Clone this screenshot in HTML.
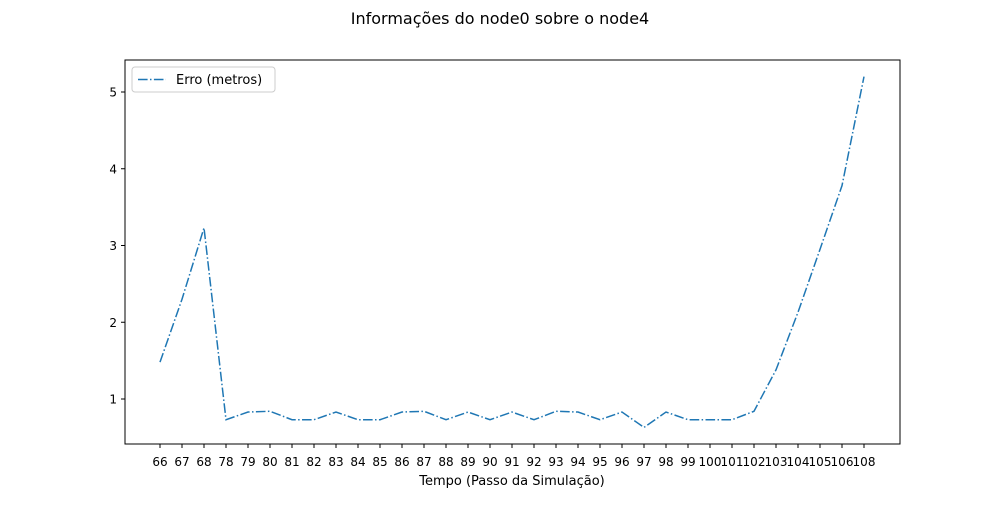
<!DOCTYPE html>
<html><head><meta charset="utf-8"><style>
body{margin:0;background:#fff;font-family:"Liberation Sans","DejaVu Sans",sans-serif}
text{font-family:"DejaVu Sans","Liberation Sans",sans-serif}
</style></head><body>
<svg id="chart" width="1000" height="500">
<rect width="1000" height="500" fill="#fff"/>
<text x="500" y="24" text-anchor="middle" font-size="16">Informações do node0 sobre o node4</text>
<g id="plot"></g>
<rect x="125" y="60" width="775" height="384" fill="none" stroke="#000" stroke-width="1"/>
<text x="512" y="485" text-anchor="middle" font-size="13">Tempo (Passo da Simulação)</text>
<g>
<rect x="132" y="67" width="143" height="25" rx="3" fill="#fff" stroke="#ccc"/>
<line x1="138" y1="79.5" x2="166" y2="79.5" stroke="#1f77b4" stroke-width="1.5" stroke-dasharray="9.6,2.4,1.5,2.4"/>
<text x="176" y="84" font-size="13">Erro (metros)</text>
</g>
</svg>
<script>
const categories=["66","67","68","78","79","80","81","82","83","84","85","86","87","88","89","90","91","92","93","94","95","96","97","98","99","100","101","102","103","104","105","106","108"];
const values=[1.48,2.3,3.23,0.73,0.83,0.84,0.73,0.73,0.83,0.73,0.73,0.83,0.84,0.73,0.83,0.73,0.83,0.73,0.84,0.83,0.73,0.83,0.63,0.83,0.73,0.73,0.73,0.84,1.38,2.13,2.95,3.78,5.2];
const yTicks=[1,2,3,4,5];
const ns="http://www.w3.org/2000/svg";
const g=document.getElementById('plot');
const xs=i=>160+i*(704/(categories.length-1));
const ys=v=>475.75-v*76.75;
function mk(t,a){const e=document.createElementNS(ns,t);for(const k in a)e.setAttribute(k,a[k]);g.appendChild(e);return e;}
yTicks.forEach(v=>{
const l=mk('line',{x1:121,x2:125,y1:ys(v),y2:ys(v),stroke:'#000'});


const t=mk('text',{x:117,y:ys(v)+4.5,'text-anchor':'end','font-size':12});
t.textContent=v;


});
categories.forEach((c,i)=>{
const l=mk('line',{x1:xs(i),x2:xs(i),y1:444,y2:448,stroke:'#000'});


const t=mk('text',{x:xs(i),y:466,'text-anchor':'middle','font-size':12});
t.textContent=c;


});
const p=mk('polyline',{points:values.map((v,i)=>xs(i)+','+ys(v)).join(' '),fill:'none',stroke:'#1f77b4','stroke-width':1.5,'stroke-dasharray':'9.6,2.4,1.5,2.4'});


</script>
</body></html>
